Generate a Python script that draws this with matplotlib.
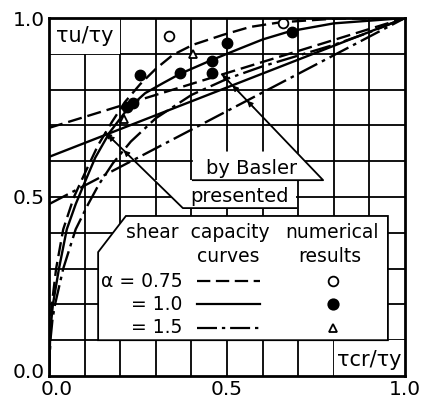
import numpy as np
import matplotlib
matplotlib.use("Agg")
import matplotlib.pyplot as plt
import matplotlib.transforms as mtransforms
from matplotlib.patches import Polygon, Rectangle

# presented shear capacity curves
pres_075_x = [0, 0.002, 0.004, 0.008, 0.02, 0.04, 0.07, 0.1, 0.138, 0.177, 0.213, 0.256, 0.3,
              0.348, 0.404, 0.489, 0.565, 0.65, 0.8, 1.0]
pres_075_y = [0, 0.1, 0.15, 0.2, 0.3, 0.41, 0.5, 0.565, 0.645, 0.71, 0.765, 0.815, 0.858,
              0.897, 0.925, 0.953, 0.975, 0.988, 0.998, 1.0]
pres_10_x = [0, 0.003, 0.006, 0.011, 0.028, 0.05, 0.075, 0.1, 0.13, 0.17, 0.22, 0.27, 0.32,
             0.368, 0.458, 0.537, 0.6, 0.677, 0.8, 1.0]
pres_10_y = [0, 0.1, 0.15, 0.2, 0.3, 0.41, 0.48, 0.54, 0.61, 0.68, 0.745, 0.79, 0.818,
             0.844, 0.883, 0.915, 0.94, 0.963, 0.985, 1.0]
pres_15_x = [0, 0.004, 0.01, 0.017, 0.04, 0.075, 0.11, 0.14, 0.18, 0.23, 0.3, 0.4, 0.5, 0.6,
             0.7, 0.8, 0.9, 1.0]
pres_15_y = [0, 0.1, 0.16, 0.2, 0.3, 0.41, 0.48, 0.535, 0.595, 0.655, 0.72, 0.785, 0.83, 0.865,
             0.895, 0.925, 0.96, 1.0]

# Basler lines
basler_x = [0.0, 1.0]
basler_075_y = [0.693, 1.0]
basler_10_y = [0.612, 1.0]
basler_15_y = [0.48, 1.0]

# numerical results
num_075_x = [0.337, 0.657]
num_075_y = [0.95, 0.985]
num_10_x = [0.219, 0.236, 0.256, 0.368, 0.458, 0.458, 0.5, 0.683]
num_10_y = [0.751, 0.763, 0.841, 0.846, 0.88, 0.846, 0.93, 0.961]
num_15_x = [0.211, 0.404]
num_15_y = [0.718, 0.899]

ticks = [0.0, 0.5, 1.0]
tick_labels = ["0.0", "0.5", "1.0"]

DASH = (0, (6, 2.5))
DASHDOT = (0, (9, 2.2, 1.5, 2.2))
FS = 13.5


def cross(p0, p1, xs, ys):
    t = np.linspace(0, 1, 2000)
    px = p0[0] + (p1[0] - p0[0]) * t
    py = p0[1] + (p1[1] - p0[1]) * t
    d = py - np.interp(px, xs, ys)
    i = np.where(np.sign(d[:-1]) != np.sign(d[1:]))[0]
    if len(i) == 0:
        return None
    return px[i[0]], py[i[0]]


def arrow_at(ax, pt, p0):
    dx, dy = p0[0] - pt[0], p0[1] - pt[1]
    n = np.hypot(dx, dy)
    tail = (pt[0] + dx / n * 0.03, pt[1] + dy / n * 0.03)
    ax.annotate("", xy=pt, xytext=tail,
                arrowprops=dict(arrowstyle="-|>", mutation_scale=9, lw=0.8,
                                color="black", shrinkA=0, shrinkB=0), zorder=6)


fig = plt.figure(figsize=(4.31, 4.08), dpi=100)
ax = fig.add_axes([49 / 431, 32 / 408, 356 / 431, 358 / 408])
ax.set_xlim(0, 1)
ax.set_ylim(0, 1)

for g in np.arange(1, 10) / 10:
    ax.axvline(g, color="black", lw=1.3, zorder=1)
    ax.axhline(g, color="black", lw=1.3, zorder=1)

kw = dict(color="black", lw=1.7, zorder=2)
ax.plot(pres_075_x, pres_075_y, ls=DASH, **kw)
ax.plot(pres_10_x, pres_10_y, ls="-", **kw)
ax.plot(pres_15_x, pres_15_y, ls=DASHDOT, **kw)
ax.plot(basler_x, basler_075_y, ls=DASH, **kw)
ax.plot(basler_x, basler_10_y, ls="-", **kw)
ax.plot(basler_x, basler_15_y, ls=DASHDOT, **kw)

ax.plot(num_075_x, num_075_y, "o", ms=7, mfc="white", mec="black", mew=1.3, zorder=4)
ax.plot(num_10_x, num_10_y, "o", ms=7.5, mfc="black", mec="black", zorder=4)
ax.plot(num_15_x, num_15_y, "^", ms=5.5, mfc="white", mec="black", mew=1.3, zorder=4)

white = dict(facecolor="white", edgecolor="none", zorder=3)

# axis label boxes
ax.add_patch(Rectangle((0, 0.9), 0.2, 0.1, **white))
ax.text(0.1, 0.95, "τu/τy", ha="center", va="center", fontsize=15, zorder=5)
ax.add_patch(Rectangle((0.8, 0.0), 0.2, 0.1, **white))
ax.text(0.9, 0.045, "τcr/τy", ha="center", va="center", fontsize=15, zorder=5)

# "by Basler" / "presented" labels
ax.add_patch(Polygon([(0.404, 0.547), (0.77, 0.547), (0.695, 0.627), (0.404, 0.627)], **white))
ax.add_patch(Polygon([(0.376, 0.469), (0.695, 0.469), (0.695, 0.547), (0.296, 0.547)], **white))
ax.text(0.57, 0.553, "by Basler", ha="center", va="bottom", fontsize=14, zorder=5)
ax.text(0.536, 0.474, "presented", ha="center", va="bottom", fontsize=14, zorder=5)

b0 = (0.77, 0.547)
b_far = (0.77 - 0.32, 0.547 + 0.32 * 1.04)
b_end = cross(b0, b_far, basler_x, basler_075_y)
ax.plot([0.404, b0[0], b_end[0]], [0.547, b0[1], b_end[1]], color="black", lw=1.3, zorder=5)
arrow_at(ax, b_end, b0)
for ys in (basler_10_y, basler_15_y):
    arrow_at(ax, cross(b0, b_far, basler_x, ys), b0)

p0 = (0.376, 0.469)
p_far = (0.376 - 0.3, 0.469 + 0.3 * 0.97)
p_end = cross(p0, p_far, pres_075_x, pres_075_y)
ax.plot([0.695, p0[0], p_end[0]], [0.469, p0[1], p_end[1]], color="black", lw=1.3, zorder=5)
arrow_at(ax, p_end, p0)
for xs, ys in ((pres_10_x, pres_10_y), (pres_15_x, pres_15_y)):
    pt = cross(p0, p_far, xs, ys)
    if pt is not None:
        arrow_at(ax, pt, p0)

# legend box
ax.add_patch(Polygon([(0.138, 0.1), (0.952, 0.1), (0.952, 0.447), (0.216, 0.447), (0.138, 0.346)],
                     facecolor="white", edgecolor="black", lw=1.3, zorder=3))
ax.text(0.216, 0.40, "shear  capacity", ha="left", va="center", fontsize=FS, zorder=5)
ax.text(0.925, 0.40, "numerical", ha="right", va="center", fontsize=FS, zorder=5)
ax.text(0.503, 0.333, "curves", ha="center", va="center", fontsize=FS, zorder=5)
ax.text(0.79, 0.333, "results", ha="center", va="center", fontsize=FS, zorder=5)
rows = [("α = 0.75", 0.265, DASH, "o", "white", 7),
        ("= 1.0", 0.200, "-", "o", "black", 7.5),
        ("= 1.5", 0.135, DASHDOT, "^", "white", 5.5)]
for lab, y, ls, mk, fc, ms in rows:
    ax.text(0.375, y, lab, ha="right", va="center", fontsize=13.5, zorder=5)
    ax.plot([0.415, 0.593], [y, y], color="black", lw=1.6, ls=ls, zorder=5)
    ax.plot([0.798], [y], mk, ms=ms, mfc=fc, mec="black", mew=1.3, zorder=5)

for s in ax.spines.values():
    s.set_linewidth(2)
    s.set_zorder(7)
ax.set_xticks(ticks)
ax.set_yticks(ticks)
ax.set_xticklabels(tick_labels, fontsize=14.5)
ax.set_yticklabels(tick_labels, fontsize=14.5)
ax.tick_params(length=0, pad=3)
xl0 = ax.get_xticklabels()[0]
xl0.set_transform(xl0.get_transform() + mtransforms.ScaledTranslation(8 / 100, 0, fig.dpi_scale_trans))
yl0 = ax.get_yticklabels()[0]
yl0.set_transform(yl0.get_transform() + mtransforms.ScaledTranslation(0, 5 / 100, fig.dpi_scale_trans))

fig.savefig("out.png", dpi=100)
